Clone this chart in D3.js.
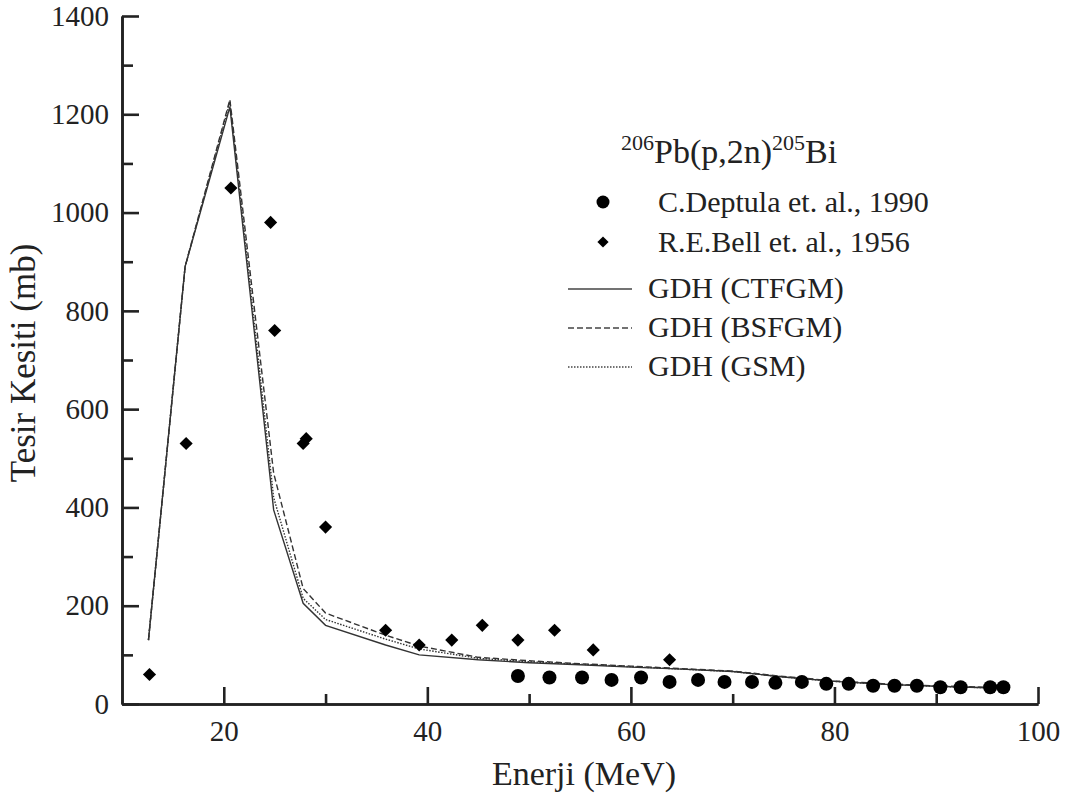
<!DOCTYPE html>
<html>
<head>
<meta charset="utf-8">
<script src="https://cdn.jsdelivr.net/npm/d3@7"></script>
<style>
  body { margin: 0; background: #fff; }
  svg text { font-family: "Liberation Serif", "DejaVu Serif", serif; fill: #222; }
</style>
</head>
<body>
<div id="chart"></div>
<script>
const W = 1070, H = 800;

// Experimental data: C.Deptula et al., 1990 (circles)
const deptulaE = [48.9, 52.0, 55.2, 58.1, 61.0, 63.8, 66.6, 69.2, 71.9, 74.2, 76.8, 79.2, 81.4, 83.8, 85.9, 88.1, 90.4, 92.4, 95.3, 96.6];
const deptulaXS = [57, 54, 54, 49, 54, 45, 49, 45, 45, 43, 45, 41, 41, 37, 37, 37, 34, 34, 34, 34];

// R.E.Bell et al., 1956 (diamonds)
const bellE = [12.7, 16.3, 20.7, 24.6, 25.0, 27.8, 28.1, 30.0, 35.9, 39.2, 42.4, 45.4, 48.9, 52.5, 56.3, 63.8];
const bellXS = [60, 530, 1050, 980, 760, 530, 540, 360, 150, 120, 130, 160, 130, 150, 110, 90];

// GDH model curves
const modelE = [12.6, 16.2, 20.6, 24.9, 27.8, 30.0, 35.9, 39.2, 45, 50, 55, 60, 65, 70, 75, 80, 85, 90, 96.6];
const ctfgm = [130, 890, 1215, 395, 205, 160, 120, 100, 90, 84, 80, 75, 71, 66, 55, 46, 40, 36, 32];
const bsfgm = [130, 890, 1230, 470, 235, 185, 140, 118, 95, 88, 82, 77, 72, 67, 56, 47, 41, 37, 33];
const gsm   = [130, 890, 1225, 420, 215, 172, 132, 112, 93, 86, 81, 76, 71, 66, 55, 46, 40, 36, 32];

const xMajor = [20, 40, 60, 80, 100];
const xMinor = [30, 50, 70, 90];
const yMajor = [0, 200, 400, 600, 800, 1000, 1200, 1400];
const yMinor = [100, 300, 500, 700, 900, 1100, 1300];

const svg = d3.select("#chart").append("svg")
    .attr("width", W)
    .attr("height", H);

const x = d3.scaleLinear().domain([10, 100]).range([122, 1038]);
const y = d3.scaleLinear().domain([0, 1400]).range([704, 16]);

function styleAxis(g) {
    g.selectAll("path, line").attr("stroke", "#222").attr("stroke-width", 2.6);
    g.selectAll("text").style("font-size", "29px").attr("fill", "#222")
        .style("font-family", "'Liberation Serif', serif");
}

// x axis
svg.append("g")
    .attr("transform", `translate(0,${y(0)})`)
    .call(d3.axisBottom(x).tickValues(xMinor).tickSizeInner(-10).tickSizeOuter(0).tickFormat(""))
    .call(styleAxis);
svg.append("g")
    .attr("transform", `translate(0,${y(0)})`)
    .call(d3.axisBottom(x).tickValues(xMajor).tickSizeInner(-17).tickSizeOuter(0).tickPadding(16))
    .call(styleAxis);

// y axis
svg.append("g")
    .attr("transform", `translate(${x(10)},0)`)
    .call(d3.axisLeft(y).tickValues(yMinor).tickSizeInner(-11).tickSizeOuter(0).tickFormat(""))
    .call(styleAxis);
svg.append("g")
    .attr("transform", `translate(${x(10)},0)`)
    .call(d3.axisLeft(y).tickValues(yMajor).tickSizeInner(-17).tickSizeOuter(0).tickPadding(13).tickFormat(d3.format("d")))
    .call(styleAxis);

// axis titles
svg.append("text")
    .attr("x", 584)
    .attr("y", 785)
    .attr("text-anchor", "middle")
    .style("font-size", "34px")
    .text("Enerji (MeV)");

svg.append("text")
    .attr("transform", "rotate(-90)")
    .attr("x", -363)
    .attr("y", 35)
    .attr("text-anchor", "middle")
    .style("font-size", "35px")
    .text("Tesir Kesiti (mb)");

// model lines
const models = [
    { name: "GDH (CTFGM)", vals: ctfgm, dash: null },
    { name: "GDH (BSFGM)", vals: bsfgm, dash: "6,3" },
    { name: "GDH (GSM)", vals: gsm, dash: "1.5,1.5" }
];

const line = d3.line()
    .x(d => x(d[0]))
    .y(d => y(d[1]));

models.forEach(m => {
    svg.append("path")
        .datum(modelE.map((e, i) => [e, m.vals[i]]))
        .attr("d", line)
        .attr("fill", "none")
        .attr("stroke", "#333")
        .attr("stroke-width", 1.4)
        .attr("stroke-dasharray", m.dash);
});

// experimental points
svg.selectAll(".deptula")
    .data(deptulaE.map((e, i) => [e, deptulaXS[i]]))
    .enter().append("circle")
    .attr("class", "deptula")
    .attr("cx", d => x(d[0]))
    .attr("cy", d => y(d[1]))
    .attr("r", 7)
    .attr("fill", "#000");

const diamond = d3.symbol().type(d3.symbolDiamond2).size(110);
svg.selectAll(".bell")
    .data(bellE.map((e, i) => [e, bellXS[i]]))
    .enter().append("path")
    .attr("class", "bell")
    .attr("d", diamond)
    .attr("transform", d => `translate(${x(d[0])},${y(d[1])})`)
    .attr("fill", "#000");

// legend
const title = svg.append("text")
    .attr("x", 621)
    .attr("y", 163)
    .style("font-size", "34px");
title.append("tspan").attr("dy", -13).style("font-size", "22px").text("206");
title.append("tspan").attr("dy", 13).text("Pb(p,2n)");
title.append("tspan").attr("dy", -13).style("font-size", "22px").text("205");
title.append("tspan").attr("dy", 13).text("Bi");

const lg = svg.append("g");
lg.append("circle").attr("cx", 603).attr("cy", 202).attr("r", 6.5).attr("fill", "#000");
lg.append("text").attr("x", 658).attr("y", 212).style("font-size", "30px").text("C.Deptula et. al., 1990");

lg.append("path").attr("d", d3.symbol().type(d3.symbolDiamond2).size(80))
    .attr("transform", "translate(603,242)").attr("fill", "#000");
lg.append("text").attr("x", 658).attr("y", 252).style("font-size", "30px").text("R.E.Bell et. al., 1956");

models.forEach((m, i) => {
    const ly = 289 + i * 39;
    lg.append("line")
        .attr("x1", 568).attr("x2", 632)
        .attr("y1", ly).attr("y2", ly)
        .attr("stroke", "#444")
        .attr("stroke-width", 1.3)
        .attr("stroke-dasharray", m.dash);
    lg.append("text").attr("x", 648).attr("y", ly + 9).style("font-size", "30px").text(m.name);
});
</script>
</body>
</html>
